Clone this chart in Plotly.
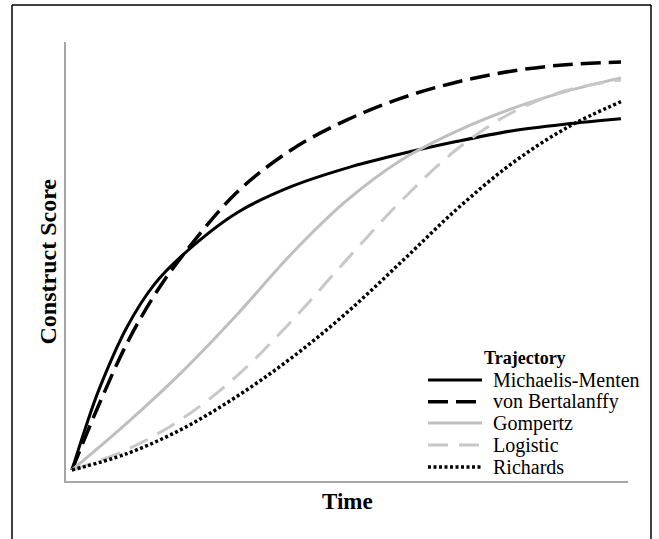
import plotly.graph_objects as go

# ---- data ----
mm_t = [0, 0.25, 0.5, 1, 1.5, 2, 3, 4, 5, 6, 7, 8, 9, 10]
mm_y = [0, 10.5, 20, 35, 45.5, 52.5, 63, 69.5, 74, 77.5, 80.5, 83.1, 84.8, 86.1]

vb_t = [0, 0.25, 0.5, 1, 1.5, 2, 3, 4, 5, 6, 7, 8, 9, 10]
vb_y = [0, 8.3, 16.3, 31, 42.8, 52.3, 68, 78.5, 85.75, 91.15, 95.05, 97.75, 99.35, 100]

gz_t = [0, 1, 2, 3, 4, 5, 6, 7, 8, 9, 10]
gz_y = [0, 11.5, 24, 38, 53, 66, 76, 83, 88.5, 92.8, 96.1]

lg_t = [0, 1, 2, 3, 4, 5, 6, 7, 8, 9, 10]
lg_y = [0, 5, 12.5, 23, 36.5, 51.5, 66, 78.5, 87.5, 93, 95.6]

rc_t = [0, 1, 2, 3, 4, 5, 6, 7, 8, 9, 10]
rc_y = [0, 4, 10, 18, 27.5, 38.5, 51, 63.8, 75, 83.8, 90.3]

names = ["Michaelis-Menten", "von Bertalanffy", "Gompertz", "Logistic", "Richards"]
colors = ["black", "black", "#bfbfbf", "#c8c8c8", "black"]
widths = [3, 3.5, 3, 3, 3.5]
dashes = ["solid", "20px,8px", "solid", "20px,11px", "3px,2.5px"]
series = [(mm_t, mm_y), (vb_t, vb_y), (gz_t, gz_y), (lg_t, lg_y), (rc_t, rc_y)]

serif = "Liberation Serif, Times New Roman, serif"

fig = go.Figure()
for (t, y), n, c, w, d in zip(series, names, colors, widths, dashes):
    fig.add_trace(go.Scatter(x=t, y=y, name=n, mode="lines", showlegend=False,
                             line=dict(color=c, width=w, dash=d, shape="spline")))

# pixel helpers (plot area is 66..628 x 42..481)
def px(xp):
    return (xp - 66) / 562.0

def py(yp):
    return (481 - yp) / 439.0

annotations = [
    dict(text="<b>Time</b>", xref="paper", yref="paper", x=0.5, y=py(501),
         xanchor="center", yanchor="middle", showarrow=False,
         font=dict(family=serif, size=23, color="black")),
    dict(text="<b>Construct Score</b>", xref="paper", yref="paper", x=px(47), y=0.5,
         xanchor="center", yanchor="middle", showarrow=False, textangle=-90,
         font=dict(family=serif, size=24, color="black")),
    dict(text="<b>Trajectory</b>", xref="paper", yref="paper", x=px(525), y=py(358),
         xanchor="center", yanchor="middle", showarrow=False,
         font=dict(family=serif, size=18, color="black")),
]
shapes = [
    dict(type="line", xref="paper", yref="paper", x0=px(12), x1=px(12),
         y0=py(5), y1=py(545), line=dict(color="black", width=1.5)),
    dict(type="line", xref="paper", yref="paper", x0=px(651), x1=px(651),
         y0=py(5), y1=py(545), line=dict(color="black", width=1.5)),
    dict(type="line", xref="paper", yref="paper", x0=px(12), x1=px(651),
         y0=py(5), y1=py(5), line=dict(color="black", width=1.5)),
]
rows = [380, 401.7, 423, 445, 467]
for n, c, w, d, r in zip(names, colors, widths, dashes, rows):
    shapes.append(dict(type="line", xref="paper", yref="paper", x0=px(428), x1=px(482),
                       y0=py(r), y1=py(r), line=dict(color=c, width=w, dash=d)))
    annotations.append(dict(text=n, xref="paper", yref="paper", x=px(491), y=py(r),
                            xanchor="left", yanchor="middle", showarrow=False,
                            font=dict(family=serif, size=20, color="black")))

fig.update_layout(
    width=659, height=539,
    margin=dict(l=66, r=31, t=42, b=58),
    paper_bgcolor="white", plot_bgcolor="white",
    showlegend=False,
    xaxis=dict(range=[-0.109, 10.128], showline=True, linecolor="#a6a6a6", linewidth=2,
               showgrid=False, zeroline=False, showticklabels=False, ticks=""),
    yaxis=dict(range=[-2.7, 104.9], showline=True, linecolor="#a6a6a6", linewidth=2,
               showgrid=False, zeroline=False, showticklabels=False, ticks=""),
    annotations=annotations,
    shapes=shapes,
)

fig.write_html("out.html", config={"displayModeBar": False},
               post_script="document.body.style.margin='0';document.body.style.overflow='hidden';")
